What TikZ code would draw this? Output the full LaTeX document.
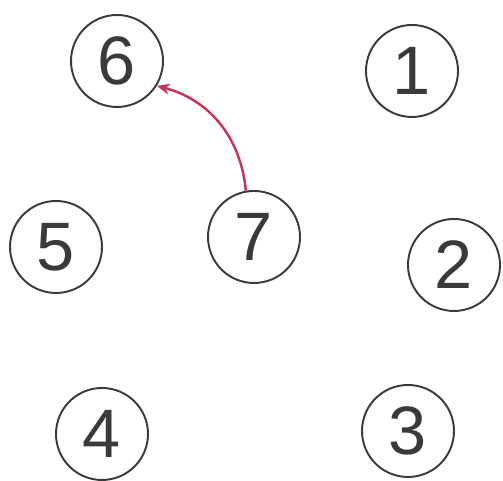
\documentclass[tikz,border=0pt]{standalone}
\usepackage{fontspec}
\setmainfont{Liberation Sans}
\usetikzlibrary{arrows.meta}
\definecolor{RingGray}{HTML}{3A3A3A}
\definecolor{LinkRed}{HTML}{C8345A}
\tikzset{
    % Vertex style - plain ring with a digit
    vertex/.style={
        circle,
        draw=RingGray,
        line width=1.1pt,
        minimum size=1.84cm,
        inner sep=0pt,
        text=RingGray,
        font=\fontsize{39}{46}\selectfont
    },
    % Arrow style - thin red curve
    linkarrow/.style={
        -{Stealth[length=2.6mm,width=2.2mm]},
        line width=1.4pt,
        draw=LinkRed
    }
}
\begin{document}
\begin{tikzpicture}
    \useasboundingbox (0,0) rectangle (10.06,9.62);
    % Outer ring
    \node[vertex] (n6) at (2.34,8.40) {6};
    \node[vertex] (n1) at (8.24,8.20) {1};
    \node[vertex] (n5) at (1.12,4.68) {5};
    \node[vertex] (n2) at (9.08,4.32) {2};
    \node[vertex] (n4) at (2.04,0.94) {4};
    \node[vertex] (n3) at (8.16,1.00) {3};
    % Centre
    \node[vertex] (n7) at (5.08,4.88) {7};

    \draw[linkarrow] (n7.100) to[bend right=35] (n6.-32);
\end{tikzpicture}
\end{document}
